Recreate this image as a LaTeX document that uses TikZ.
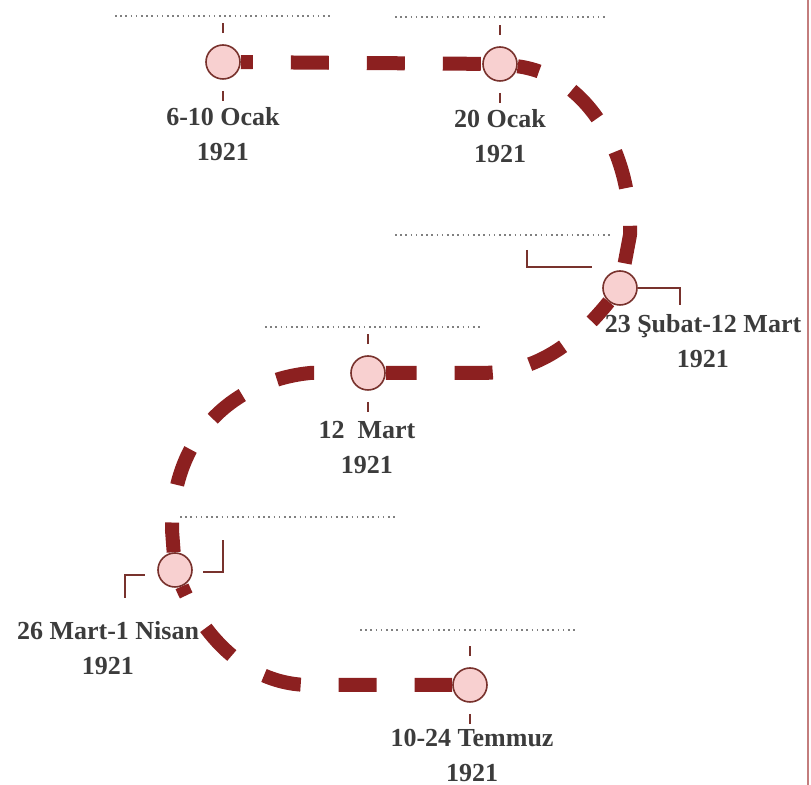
\documentclass[tikz,border=0pt]{standalone}
\usepackage{fontspec}
\setmainfont{Liberation Serif}
\usepackage{tikz}
\usetikzlibrary{calc}

\definecolor{routered}{RGB}{140,32,32}
\definecolor{dotpink}{RGB}{248,208,208}
\definecolor{ringbrown}{RGB}{120,50,45}
\definecolor{labelgray}{RGB}{60,60,60}
\definecolor{edgepink}{RGB}{195,125,125}

\tikzset{
  route/.style={routered, line width=7pt, dash pattern=on 19pt off 19pt},
  stop/.style={circle, draw=ringbrown, fill=dotpink, line width=0.8pt, minimum size=17pt, inner sep=0pt},
  tickline/.style={ringbrown, line width=0.8pt},
  guide/.style={gray, line width=0.7pt, dash pattern=on 0.8pt off 1.8pt},
  datelabel/.style={labelgray, align=center, inner sep=1pt, font=\fontsize{13}{17.5}\selectfont\bfseries},
}

\begin{document}
\begin{tikzpicture}[x=0.5pt, y=0.5pt]
\useasboundingbox (0,0) rectangle (811,-785);

% dotted guides
\draw[guide] (115,-16) -- (330,-16);
\draw[guide] (395,-17) -- (605,-17);
\draw[guide] (395,-235) -- (610,-235);
\draw[guide] (265,-327) -- (480,-327);
\draw[guide] (180,-517) -- (395,-517);
\draw[guide] (360,-630) -- (575,-630);

% stops
\node[stop] (c1) at (223,-62) {};
\node[stop] (c2) at (500,-64) {};
\node[stop] (c3) at (620,-288) {};
\node[stop] (c4) at (368,-373) {};
\node[stop] (c5) at (175,-570) {};
\node[stop] (c6) at (470,-685) {};

% the route
\draw[route, dash phase=13pt] (c1) -- (c2);
\draw[route, dash phase=8pt] (c2) .. controls (585,-75) and (632,-150) .. (630,-235) -- (c3);
\draw[route, dash phase=6pt] (c3) .. controls (570,-350) and (530,-373) .. (480,-373) -- (c4);
\draw[route, dash phase=20pt] (c4) -- (310,-373) .. controls (240,-380) and (172,-430) .. (172,-530) -- (c5);
\draw[route, dash phase=14pt] (c5) .. controls (205,-640) and (250,-685) .. (310,-685) -- (c6);

% ticks
\foreach \c in {c1,c2,c4,c6}{
  \draw[tickline] ([yshift=5.5pt]\c.north) -- ++(0,10);
  \draw[tickline] ([yshift=-5.5pt]\c.south) -- ++(0,-10);
}
\draw[tickline] (527,-250) |- (592,-267);
\draw[tickline] (c3.east) -| (680,-305);
\draw[tickline] (125,-598) |- (145,-575);
\draw[tickline] (203,-572) -| (223,-540);

% dates
\node[datelabel] (l1) at (223,-134) {6-10 Ocak\\1921};
\node[datelabel] (l2) at (500,-136) {20 Ocak\\1921};
\node[datelabel] (l3) at (703,-341) {23 Şubat-12 Mart\\1921};
\node[datelabel] (l4) at (367,-448) {12\ \ Mart\\1921};
\node[datelabel] (l5) at (108,-648) {26 Mart-1 Nisan\\1921};
\node[datelabel] (l6) at (472,-755) {10-24 Temmuz\\1921};

% right edge
\draw[edgepink, line width=1.2pt] (808,0) -- (808,-785);
\end{tikzpicture}
\end{document}
